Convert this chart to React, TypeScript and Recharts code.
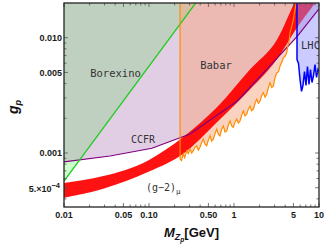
import { ComposedChart, Area, Line, XAxis, YAxis } from 'recharts';

// plot frame in pixels (matches margins / axis sizes below)
const PLOT = { left: 64, right: 319, top: 3, bottom: 207 };
const Y_MIN = 3.4e-4;
const Y_MAX = 0.02;
const TOP = 0.05; // fills run past the frame and get clipped

// Borexino (green line, region above it)
const borexinoM = [0.01, 0.354];
const borexinoG = [5.7e-4, 0.02];
// corner where only Borexino applies (between green and purple lines)
const borexOnlyM = [0.01, 0.0152];
const borexOnlyLo = [5.7e-4, 8.72e-4];
const borexOnlyHi = [8.37e-4, 8.72e-4];

// CCFR (purple)
const ccfrM = [0.01, 0.0348, 0.108, 0.304, 1.085, 5.51, 10];
const ccfrG = [8.37e-4, 9.42e-4, 1.1e-3, 1.46e-3, 2.81e-3, 1.02e-2, 1.78e-2];

// Babar (orange)
const babarM = [0.232, 0.241, 0.253, 0.263, 0.278, 0.29, 0.304, 0.318, 0.332, 0.348, 0.364, 0.38, 0.398, 0.415, 0.435, 0.455, 0.477, 0.5, 0.522, 0.546, 0.571, 0.6, 0.626, 0.655, 0.684, 0.715, 0.748, 0.785, 0.821, 0.86, 0.897, 0.94, 0.981, 1.03, 1.076, 1.125, 1.177, 1.23, 1.286, 1.35, 1.411, 1.475, 1.542, 1.61, 1.687, 1.77, 1.85, 1.94, 2.023, 2.12, 2.212, 2.32, 2.425, 2.54, 2.652, 2.78, 2.901, 3.04, 3.18, 3.33, 3.477, 3.64, 3.802, 3.98, 4.169, 4.32, 4.473, 4.558, 4.77, 4.985, 5.22, 5.47];
const babarG = [8.88e-4, 8.6e-4, 9.8e-4, 9.1e-4, 1.047e-3, 9.9e-4, 1.083e-3, 1.0e-3, 1.047e-3, 1.12e-3, 1.156e-3, 1.06e-3, 1.12e-3, 1.22e-3, 1.32e-3, 1.2e-3, 1.156e-3, 1.3e-3, 1.409e-3, 1.27e-3, 1.32e-3, 1.48e-3, 1.61e-3, 1.45e-3, 1.409e-3, 1.6e-3, 1.719e-3, 1.52e-3, 1.557e-3, 1.75e-3, 1.899e-3, 1.72e-3, 1.666e-3, 1.86e-3, 1.964e-3, 1.82e-3, 1.899e-3, 2.12e-3, 2.316e-3, 2.1e-3, 2.168e-3, 2.4e-3, 2.557e-3, 2.33e-3, 2.394e-3, 2.7e-3, 2.92e-3, 2.7e-3, 2.825e-3, 3.15e-3, 3.338e-3, 3.05e-3, 3.227e-3, 3.7e-3, 4.07e-3, 3.7e-3, 3.8e-3, 4.5e-3, 4.96e-3, 5.05e-3, 5.66e-3, 6.1e-3, 6.68e-3, 6.9e-3, 7.38e-3, 8.6e-3, 9.61e-3, 1.104e-2, 1.25e-2, 1.429e-2, 1.743e-2, 2.13e-2];

// (g-2)_mu band
const gm2M = [0.01, 0.029, 0.1, 0.25, 0.63, 1.54, 3.2, 5.5, 9.5];
const gm2Lo = [4.1e-4, 4.9e-4, 6.9e-4, 9.8e-4, 1.85e-3, 3.56e-3, 6.5e-3, 1.22e-2, 2.1e-2];
const gm2Hi = [5.5e-4, 6.3e-4, 8.7e-4, 1.37e-3, 2.49e-3, 5.3e-3, 9.6e-3, 2.2e-2, 4.0e-2];

// LHC (blue)
const lhcM = [5.51, 5.51, 5.74, 5.98, 6.23, 6.48, 6.75, 7.03, 7.32, 7.63, 7.94, 8.27, 8.62, 8.97, 9.35, 9.73, 10];
const lhcG = [0.025, 6.46e-3, 5.97e-3, 4.34e-3, 3.42e-3, 3.86e-3, 5.09e-3, 3.86e-3, 5.62e-3, 3.93e-3, 5.3e-3, 4.09e-3, 4.7e-3, 5.85e-3, 4.52e-3, 5.3e-3, 5.09e-3];

// ticks
const xMajor = [0.01, 0.05, 0.1, 0.5, 1, 5, 10];
const xMajorLabels = ['0.01', '0.05', '0.10', '0.50', '1', '5', '10'];
const xMinor = [0.02, 0.03, 0.04, 0.06, 0.07, 0.08, 0.09, 0.2, 0.3, 0.4, 0.6, 0.7, 0.8, 0.9, 2, 3, 4, 6, 7, 8, 9];
const yMajor = [5e-4, 0.001, 0.005, 0.01];
const yMajorLabels = ['5.×10', '0.001', '0.005', '0.010'];
const yMinor = [4e-4, 6e-4, 7e-4, 8e-4, 9e-4, 0.002, 0.003, 0.004, 0.006, 0.007, 0.008, 0.009];

const rows = (m: number[], g: number[]) => m.map((v, i) => ({ m: v, g: g[i] }));
const borexRows = rows(borexinoM, borexinoG);
const borexOnlyRows = borexOnlyM.map((v, i) => ({ m: v, lo: borexOnlyLo[i], hi: borexOnlyHi[i] }));
const ccfrRows = rows(ccfrM, ccfrG);
const babarRows = rows(babarM, babarG);
const babarLineRows = [{ m: babarM[0], g: TOP }, ...babarRows];
const gm2Rows = gm2M.map((v, i) => ({ m: v, lo: gm2Lo[i], hi: gm2Hi[i] }));
const lhcRows = rows(lhcM, lhcG);

const SANS = '"Liberation Sans", Arial, sans-serif';
const TICK_FONT = { fontFamily: SANS, fontWeight: 700, fontSize: 9, fill: '#1a1a1a' };
const MONO = '"DejaVu Sans Mono", monospace';

const near = (a: number, b: number) => Math.abs(a - b) / b < 1e-6;

const XTick = (props: any) => {
  const { x, payload } = props;
  const i = xMajor.findIndex((t) => near(payload.value, t));
  const len = i >= 0 ? 4 : 2.5;
  return (
    <g>
      <line x1={x} x2={x} y1={PLOT.bottom} y2={PLOT.bottom - len} stroke="#555" strokeWidth={0.8} />
      <line x1={x} x2={x} y1={PLOT.top} y2={PLOT.top + len} stroke="#555" strokeWidth={0.8} />
      {i >= 0 && (
        <text x={x} y={PLOT.bottom + 11} textAnchor="middle" {...TICK_FONT}>
          {xMajorLabels[i]}
        </text>
      )}
    </g>
  );
};

const YTick = (props: any) => {
  const { y, payload } = props;
  const i = yMajor.findIndex((t) => near(payload.value, t));
  const len = i >= 0 ? 4 : 2.5;
  return (
    <g>
      <line x1={PLOT.left} x2={PLOT.left + len} y1={y} y2={y} stroke="#555" strokeWidth={0.8} />
      <line x1={PLOT.right} x2={PLOT.right - len} y1={y} y2={y} stroke="#555" strokeWidth={0.8} />
      {i === 0 && (
        <text x={PLOT.left - 4} y={y + 4.5} textAnchor="end" {...TICK_FONT}>
          {yMajorLabels[i]}
          <tspan dy={-4.5} fontSize={7.5}>−4</tspan>
        </text>
      )}
      {i > 0 && (
        <text x={PLOT.left - 2} y={y + 3.5} textAnchor="end" {...TICK_FONT}>
          {yMajorLabels[i]}
        </text>
      )}
    </g>
  );
};

// region labels, frame and axis titles, drawn above the chart
const Overlay = () => (
  <svg width={325} height={251} style={{ position: 'absolute', left: 0, top: 0, pointerEvents: 'none' }}>
    <defs>
      <clipPath id="plotClip">
        <rect x={PLOT.left} y={PLOT.top} width={PLOT.right - PLOT.left} height={PLOT.bottom - PLOT.top} />
      </clipPath>
    </defs>
    <g fontFamily={MONO} fontSize={10.5} fill="#333">
      <text x={115.5} y={77} textAnchor="middle">Borexino</text>
      <text x={216} y={69} textAnchor="middle">Babar</text>
      <text x={143} y={143} textAnchor="middle" fontSize={10}>CCFR</text>
      <text x={146} y={191} fontSize={10}>
        (g−2)<tspan dy={3} fontSize={7.5}>μ</tspan>
      </text>
      <text x={301} y={49} clipPath="url(#plotClip)">LHC</text>
    </g>
    <rect x={PLOT.left} y={PLOT.top} width={PLOT.right - PLOT.left} height={PLOT.bottom - PLOT.top} fill="none" stroke="#222" strokeWidth={1.3} />
    <text x={18} y={107} transform="rotate(-90 18 107)" textAnchor="middle" fontFamily={SANS} fontWeight={700} fontStyle="italic" fontSize={14} fill="#111">
      g<tspan dy={3} fontSize={9}>p</tspan>
    </text>
    <text x={191.5} y={237} textAnchor="middle" fontFamily={SANS} fontWeight={700} fontSize={13} fill="#111">
      <tspan fontStyle="italic">M</tspan>
      <tspan fontStyle="italic" fontSize={9} dy={3}>Z</tspan>
      <tspan fontStyle="italic" fontSize={6.5} dy={2}>p</tspan>
      <tspan dy={-5}>[GeV]</tspan>
    </text>
  </svg>
);

export default function App() {
  return (
    <div style={{ position: 'absolute', left: 0, top: 0, width: 325, height: 251, background: '#fff' }}>
      <ComposedChart width={325} height={251} margin={{ top: 3, right: 6, bottom: 0, left: 0 }}>
        <XAxis
          dataKey="m"
          type="number"
          scale="log"
          domain={[0.01, 10]}
          allowDataOverflow
          ticks={[...xMajor, ...xMinor]}
          interval={0}
          tick={<XTick />}
          tickLine={false}
          axisLine={false}
          height={44}
        />
        <YAxis
          type="number"
          scale="log"
          domain={[Y_MIN, Y_MAX]}
          allowDataOverflow
          ticks={[...yMajor, ...yMinor]}
          interval={0}
          tick={<YTick />}
          tickLine={false}
          axisLine={false}
          width={64}
        />

        {/* region fills */}
        <Area data={ccfrRows} dataKey={(d: any) => [d.g, TOP]} type="linear" stroke="none" fill="#e2cee4" fillOpacity={1} isAnimationActive={false} />
        <Area data={borexRows} dataKey={(d: any) => [d.g, TOP]} type="linear" stroke="none" fill="#c0d0c0" fillOpacity={1} isAnimationActive={false} />
        <Area data={borexOnlyRows} dataKey={(d: any) => [d.lo, d.hi]} type="linear" stroke="none" fill="#ccffcc" fillOpacity={1} isAnimationActive={false} />
        <Area data={babarRows} dataKey={(d: any) => [d.g, TOP]} type="linear" stroke="none" fill="#f5a582" fillOpacity={0.5} isAnimationActive={false} />
        <Area data={gm2Rows} dataKey={(d: any) => [d.lo, d.hi]} type="monotone" stroke="none" fill="#ff0000" fillOpacity={0.93} isAnimationActive={false} />
        <Area data={lhcRows.slice(1)} dataKey={(d: any) => [d.g, TOP]} type="linear" stroke="none" fill="#8c8cff" fillOpacity={0.45} isAnimationActive={false} />

        {/* boundary lines */}
        <Line data={ccfrRows} dataKey="g" type="linear" stroke="#800080" strokeWidth={1.2} dot={false} isAnimationActive={false} />
        <Line data={borexRows} dataKey="g" type="linear" stroke="#22cc22" strokeWidth={1.3} dot={false} isAnimationActive={false} />
        <Line data={babarLineRows} dataKey="g" type="linear" stroke="#ff8c00" strokeWidth={1.2} dot={false} isAnimationActive={false} />
        <Line data={lhcRows} dataKey="g" type="linear" stroke="#0000ff" strokeWidth={1.5} dot={false} isAnimationActive={false} />
      </ComposedChart>
      <Overlay />
    </div>
  );
}
